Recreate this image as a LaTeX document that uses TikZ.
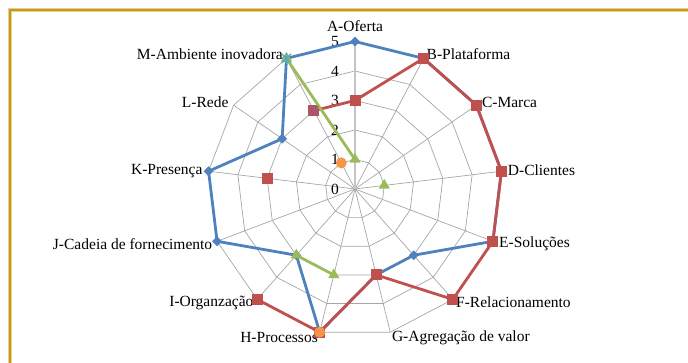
\documentclass[tikz,border=0pt]{standalone}
\usepackage{fontspec}
\setmainfont{Liberation Serif}
\usetikzlibrary{shapes.geometric}
\definecolor{serblue}{HTML}{4F81BD}
\definecolor{serred}{HTML}{C0504D}
\definecolor{sergreen}{HTML}{9BBB59}
\definecolor{serpurple}{HTML}{8064A2}
\definecolor{serteal}{HTML}{4BACC6}
\definecolor{serorange}{HTML}{F79646}
\definecolor{gridgray}{HTML}{A6A6A6}
\definecolor{axisgray}{HTML}{C4C4C4}
\definecolor{framegold}{HTML}{C49A22}
\definecolor{framelight}{HTML}{E6D08C}
\begin{document}
\begin{tikzpicture}[x=1pt,y=1pt,
  font=\fontsize{15.5}{18}\selectfont,
  gridline/.style={gridgray, line width=0.7pt},
  valueaxis/.style={axisgray, line width=1.8pt},
  serline/.style={line width=2.8pt, line join=round, line cap=round},
  lbl/.style={inner sep=0pt, text=black},
  mkdiamond/.style={diamond, aspect=1, fill=serblue, minimum size=10pt, inner sep=0pt},
  mksquare/.style={rectangle, fill=serred, minimum size=11pt, inner sep=0pt},
  mktriangle/.style={regular polygon, regular polygon sides=3, fill=sergreen, minimum size=13pt, inner sep=0pt},
  mkcircle/.style={circle, fill=serorange, minimum size=11pt, inner sep=0pt},
  mkcross/.style={serpurple, line width=1.3pt},
  mkstar/.style={serteal, line width=1.3pt}
]
\useasboundingbox (-355,-174) rectangle (333,189);

% gold frame along the top and left edges
\draw[framelight, line width=3.6pt] (333,179) -- (-345,179) -- (-345,-174);
\draw[framegold, line width=2.2pt] (333,179) -- (-345,179) -- (-345,-174);

% grid: 13-sided rings for the levels 1..5 and the spokes
\foreach \r in {1,...,5}
  \draw[gridline] (90:\r*29.5) \foreach \i in {1,...,12} { -- ({90-\i*360/13}:\r*29.5) } -- cycle;
\foreach \i in {1,...,12}
  \draw[gridline] (0,0) -- ({90-\i*360/13}:147.5);
\draw[valueaxis] (0,0) -- (90:147.5);

% scale labels on the value axis
\foreach \v in {0,...,5}
  \node[lbl, anchor=east] (tick\v) at (-16,\v*29.5) {\v};

% axis labels
\node[lbl, anchor=base] (labA) at (0,157) {A-Oferta};
\node[lbl, anchor=west] (labB) at (71.5,135) {B-Plataforma};
\node[lbl, anchor=west] (labC) at (126.8,87) {C-Marca};
\node[lbl, anchor=west] (labD) at (152.7,18.3) {D-Clientes};
\node[lbl, anchor=west] (labE) at (144,-54.7) {E-Soluções};
\node[lbl, anchor=west] (labF) at (101,-113.7) {F-Relacionamento};
\node[lbl, anchor=west] (labG) at (36.8,-148.3) {G-Agregação de valor};
\node[lbl, anchor=east] (labH) at (-37,-148.3) {H-Processos};
\node[lbl, anchor=east] (labI) at (-101.4,-113.7) {I-Organzação};
\node[lbl, anchor=east] (labJ) at (-142.6,-54.7) {J-Cadeia de fornecimento};
\node[lbl, anchor=east] (labK) at (-152.3,18.3) {K-Presença};
\node[lbl, anchor=east] (labL) at (-126.4,86.7) {L-Rede};
\node[lbl, anchor=east] (labM) at (-72,135) {M-Ambiente inovadora};

% data points (axis index 0..12 from A clockwise, value 0..5)
\foreach \nm/\k/\v in {A/0/5,B/1/5,C/2/5,D/3/5,E/4/5,F/5/3,G/6/3,H/7/5,I/8/3,J/9/5,K/10/5,L/11/3,M/12/5}
  \coordinate (b\nm) at ({90-\k*360/13}:{\v*29.5});
\foreach \nm/\k/\v in {A/0/3,B/1/5,C/2/5,D/3/5,E/4/5,F/5/5,G/6/3,H/7/5,I/8/5,K/10/3,M/12/3}
  \coordinate (r\nm) at ({90-\k*360/13}:{\v*29.5});
\foreach \nm/\k/\v in {A/0/1,D/3/1,H/7/3,I/8/3,M/12/5}
  \coordinate (g\nm) at ({90-\k*360/13}:{\v*29.5});
\coordinate (pM) at ({90-12*360/13}:{3*29.5});
\coordinate (tM) at ({90-12*360/13}:{5*29.5});
\coordinate (oM) at ({90-12*360/13}:{1*29.5});
\coordinate (oH) at ({90-7*360/13}:{5*29.5});

% series 1 (blue, diamonds)
\draw[serline, serblue] (bA) -- (bB) -- (bC) -- (bD) -- (bE) -- (bF) -- (bG) -- (bH)
  -- (bI) -- (bJ) -- (bK) -- (bL) -- (bM) -- cycle;
\foreach \nm in {A,B,C,D,E,F,G,H,I,J,K,L,M}
  \node[mkdiamond] (mb\nm) at (b\nm) {};

% series 2 (red, squares)
\draw[serline, serred] (rI) -- (rH) -- (rG) -- (rF) -- (rE) -- (rD) -- (rC) -- (rB) -- (rA) -- (rM);
\foreach \nm in {A,B,C,D,E,F,G,H,I,K,M}
  \node[mksquare] (mr\nm) at (r\nm) {};

% series 3 (green, triangles)
\draw[serline, sergreen] (gM) -- (gA);
\draw[serline, sergreen] (gI) -- (gH);
\foreach \nm in {A,D,H,I,M}
  \node[mktriangle] (mg\nm) at (g\nm) {};

% series 4 (purple, cross)
\draw[mkcross] ([shift={(-4.5,-4.5)}]pM) -- ([shift={(4.5,4.5)}]pM)
  ([shift={(-4.5,4.5)}]pM) -- ([shift={(4.5,-4.5)}]pM);

% series 5 (teal, asterisk)
\draw[mkstar] ([shift={(-4.5,-4.5)}]tM) -- ([shift={(4.5,4.5)}]tM)
  ([shift={(-4.5,4.5)}]tM) -- ([shift={(4.5,-4.5)}]tM)
  ([shift={(0,-5.5)}]tM) -- ([shift={(0,5.5)}]tM);

% series 6 (orange, circles)
\node[mkcircle] (moM) at (oM) {};
\node[mkcircle] (moH) at (oH) {};
\end{tikzpicture}
\end{document}
